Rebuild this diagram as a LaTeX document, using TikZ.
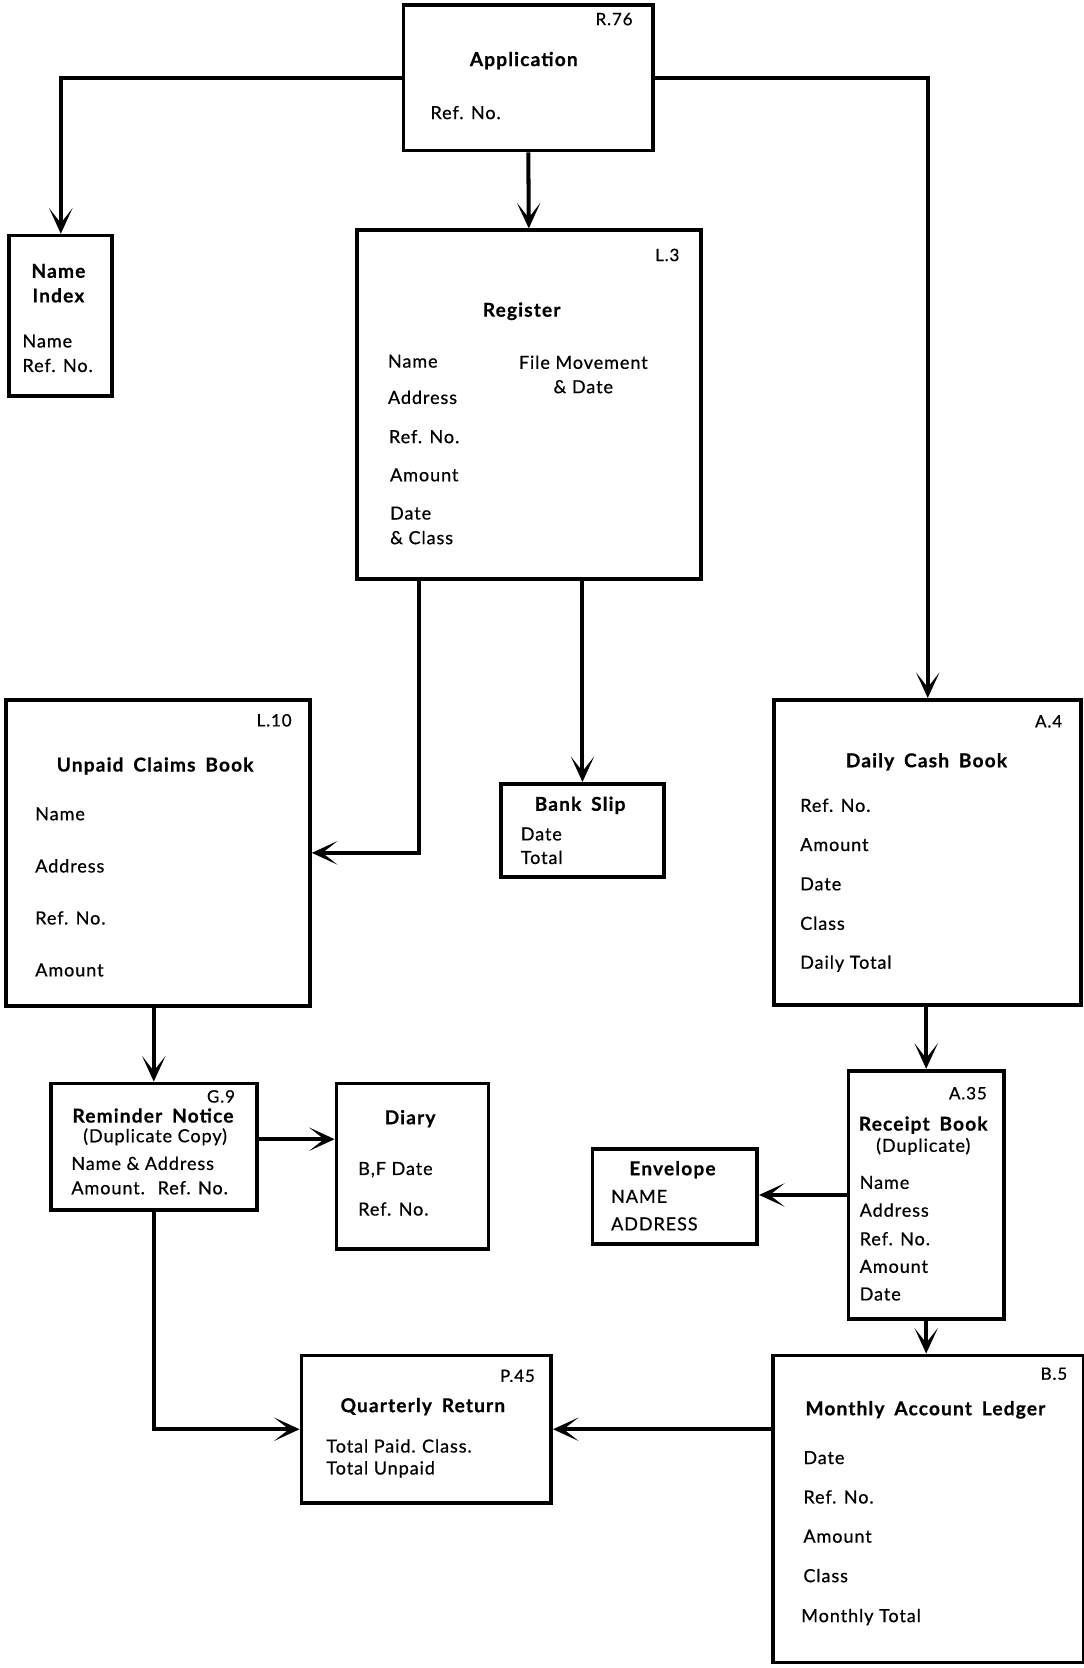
\documentclass[tikz,border=0pt]{standalone}
\usepackage{fontspec}
\setmainfont{Lato}
\newfontfamily\rfont{Lato}[LetterSpace=5,FakeBold=0.6]
\newfontfamily\bfont{Lato}[LetterSpace=6,FakeBold=0.6,WordSpace=1.7]
\usetikzlibrary{arrows.meta,calc}
\tikzset{
  box/.style={draw,line width=3.5pt,rectangle,anchor=north west,inner sep=0pt},
  arr/.style={line width=3.8pt,-{Stealth[length=24pt,width=22pt,inset=14pt]}},
  ttl/.style={font=\fontsize{18}{21}\bfont\bfseries,inner sep=0pt,anchor=center},
  itm/.style={font=\fontsize{17}{20}\rfont,inner sep=0pt,anchor=west},
  itc/.style={font=\fontsize{17}{20}\rfont,inner sep=0pt,anchor=center},
  cod/.style={font=\fontsize{16}{19}\rfont,inner sep=0pt,anchor=center}
}
\begin{document}
\begin{tikzpicture}[x=1pt,y=-1pt]
\useasboundingbox (0,0) rectangle (1020,1570);
% Application
\node[box,minimum width=235pt,minimum height=137pt] (app) at (378,3) {};
\node[cod] (appc) at (578,18) {R.76};
\node[ttl] (appt) at (493,57) {Application};
\node[itm] (app1) at (405,106) {Ref. No.};
% Name Index
\node[box,minimum width=97pt,minimum height=151pt] (ni) at (7,220) {};
\node[ttl] (nit1) at (55,255) {Name};
\node[ttl] (nit2) at (55,278) {Index};
\node[itm] (ni1) at (21,321) {Name};
\node[itm] (ni2) at (21,344) {Ref. No.};
% Register
\node[box,minimum width=324pt,minimum height=328pt] (reg) at (334,215) {};
\node[cod] (regc) at (628,240) {L.3};
\node[ttl] (regt) at (491,293) {Register};
\node[itm] (reg1) at (365,340) {Name};
\node[itm] (reg2) at (365,374) {Address};
\node[itm] (reg3) at (366,411) {Ref. No.};
\node[itm] (reg4) at (367,447) {Amount};
\node[itm] (reg5) at (367,483) {Date};
\node[itm] (reg6) at (367,506) {\& Class};
\node[itc] (reg7) at (549,341) {File Movement};
\node[itc] (reg8) at (549,364) {\& Date};
% Daily Cash Book
\node[box,minimum width=289pt,minimum height=287pt] (dcb) at (727,657) {};
\node[cod] (dcbc) at (987,679) {A.4};
\node[ttl] (dcbt) at (872,717) {Daily Cash Book};
\node[itm] (dcb1) at (753,758) {Ref. No.};
\node[itm] (dcb2) at (753,795) {Amount};
\node[itm] (dcb3) at (753,832) {Date};
\node[itm] (dcb4) at (753,869) {Class};
\node[itm] (dcb5) at (753,907) {Daily Total};
% Unpaid Claims Book
\node[box,minimum width=286pt,minimum height=288pt] (ucb) at (4,657) {};
\node[cod] (ucbc) at (258,678) {L.10};
\node[ttl] (ucbt) at (146,721) {Unpaid Claims Book};
\node[itm] (ucb1) at (33,766) {Name};
\node[itm] (ucb2) at (33,815) {Address};
\node[itm] (ucb3) at (33,864) {Ref. No.};
\node[itm] (ucb4) at (33,913) {Amount};
% Bank Slip
\node[box,minimum width=153pt,minimum height=88pt] (bs) at (470,736) {};
\node[ttl] (bst) at (546,758) {Bank Slip};
\node[itm] (bs1) at (490,785) {Date};
\node[itm] (bs2) at (490,807) {Total};
% Reminder Notice
\node[box,minimum width=194pt,minimum height=119pt] (rn) at (46,1018) {};
\node[cod] (rnc) at (208,1032) {G.9};
\node[ttl] (rnt) at (144,1050) {Reminder Notice};
\node[itc] (rn1) at (146,1070) {(Duplicate Copy)};
\node[itm] (rn2) at (67,1095) {Name \& Address};
\node[itm] (rn3) at (67,1118) {Amount.\hspace{12pt}Ref. No.};
% Diary
\node[box,minimum width=143pt,minimum height=156pt] (dia) at (315,1018) {};
\node[ttl] (diat) at (386,1053) {Diary};
\node[itm] (dia1) at (337,1101) {B,F Date};
\node[itm] (dia2) at (337,1138) {Ref. No.};
% Quarterly Return
\node[box,minimum width=235pt,minimum height=139pt] (qr) at (282,1274) {};
\node[cod] (qrc) at (487,1295) {P.45};
\node[ttl] (qrt) at (398,1324) {Quarterly Return};
\node[itm] (qr1) at (307,1361) {Total Paid.\hspace{6pt}Class.};
\node[itm] (qr2) at (307,1383) {Total Unpaid};
% Receipt Book
\node[box,minimum width=146pt,minimum height=234pt] (rb) at (797,1006) {};
\node[cod] (rbc) at (911,1029) {A.35};
\node[ttl] (rbt) at (869,1059) {Receipt Book};
\node[itc] (rb0) at (869,1079) {(Duplicate)};
\node[itm] (rb1) at (809,1113) {Name};
\node[itm] (rb2) at (809,1139) {Address};
\node[itm] (rb3) at (809,1166) {Ref. No.};
\node[itm] (rb4) at (809,1192) {Amount};
\node[itm] (rb5) at (809,1218) {Date};
% Envelope
\node[box,minimum width=155pt,minimum height=89pt] (env) at (556,1080) {};
\node[ttl] (envt) at (633,1101) {Envelope};
\node[itm] (env1) at (575,1126) {NAME};
\node[itm] (env2) at (575,1152) {ADDRESS};
% Monthly Account Ledger
\node[box,minimum width=292pt,minimum height=289pt] (mal) at (726,1274) {};
\node[cod] (malc) at (992,1293) {B.5};
\node[ttl] (malt) at (871,1327) {Monthly Account Ledger};
\node[itm] (mal1) at (756,1372) {Date};
\node[itm] (mal2) at (756,1409) {Ref. No.};
\node[itm] (mal3) at (756,1446) {Amount};
\node[itm] (mal4) at (756,1483) {Class};
\node[itm] (mal5) at (754,1522) {Monthly Total};
% connectors
\coordinate (r1) at (394,543);
\draw[arr] (app.west) -| (ni.north);
\draw[arr] (app.east) -| (dcb.north);
\draw[arr] (app.south) -- (reg.north);
\draw[arr] (r1) |- (ucb.east);
\draw[arr] (reg.south -| bs.north) -- (bs.north);
\draw[arr] (ucb.south -| rn.north) -- (rn.north);
\draw[arr] ([yshift=7pt]rn.east) -- ([yshift=7pt]rn.east -| dia.west);
\draw[arr] (rn.south) |- (qr.west);
\draw[arr] (dcb.south -| rb.north) -- (rb.north);
\draw[arr] (rb.west) -- (rb.west -| env.east);
\draw[arr] (rb.south) -- (rb.south |- mal.north);
\draw[arr] (mal.west |- qr.east) -- (qr.east);
\end{tikzpicture}
\end{document}
